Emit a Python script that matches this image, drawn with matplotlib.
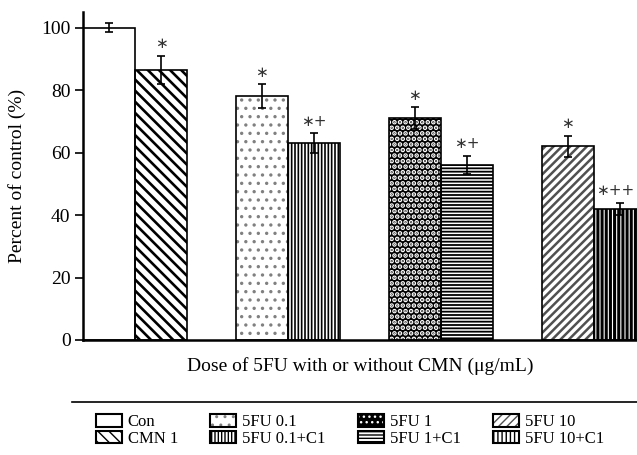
import numpy as np
import matplotlib
matplotlib.use("Agg")
import matplotlib.pyplot as plt
from matplotlib.patches import Patch
from matplotlib.lines import Line2D

plt.rcParams['font.family'] = ['Liberation Serif', 'DejaVu Serif']

# data
groups = ["Con", "CMN 1", "5FU 0.1", "5FU 0.1+C1", "5FU 1", "5FU 1+C1", "5FU 10", "5FU 10+C1"]
values = [100, 86.5, 78, 63, 71, 56, 62, 42]
errors = [1.5, 4.5, 3.8, 3.2, 3.5, 3.0, 3.4, 2.0]
marks = ["", "\u2217", "\u2217", "\u2217+", "\u2217", "\u2217+", "\u2217", "\u2217++"]

# fill styles: face, hatch, hatch colour, hatch linewidth
styles = [
    ("white", None, "black", 1.0),
    ("white", "\\\\\\", "black", 1.9),
    ("white", "..", "#808080", 1.2),
    ("white", "|||||", "black", 1.2),
    ("black", "...", "white", 2.4),
    ("white", "-----", "black", 1.3),
    ("white", "////", "#505050", 1.8),
    ("white", "||||", "black", 2.2),
]

fig = plt.figure(figsize=(6.37, 4.55), dpi=100)
ax = fig.add_axes([83 / 637, 115 / 455, 1 - 83 / 637, 328 / 455])

pitch = 2.94
xs = []
for i in range(len(values)):
    xs.append((i // 2) * pitch + (i % 2) + 0.5)
xs = np.array(xs)

handles = []
for x, v, e, st in zip(xs, values, errors, styles):
    face, hatch, hcol, hlw = st
    with plt.rc_context({'hatch.linewidth': hlw}):
        b = ax.bar(x, v, width=1.0, color=face, edgecolor=hcol, linewidth=0,
                   hatch=hatch, zorder=1)
    for p in b:
        if hasattr(p, "set_hatch_linewidth"):
            p.set_hatch_linewidth(hlw)
    ax.bar(x, v, width=1.0, fill=False, edgecolor="black", linewidth=1.2, zorder=2)
    with plt.rc_context({'hatch.linewidth': hlw}):
        h1 = Patch(facecolor=face, edgecolor=hcol, linewidth=0, hatch=hatch)
    if hasattr(h1, "set_hatch_linewidth"):
        h1.set_hatch_linewidth(hlw)
    h2 = Patch(fill=False, edgecolor="black", linewidth=1.5)
    handles.append((h1, h2))

ax.errorbar(xs, values, yerr=errors, fmt="none", ecolor="black", elinewidth=1.2,
            capsize=3, capthick=1.2, zorder=3)

for i, (x, v, e, m) in enumerate(zip(xs, values, errors, marks)):
    if m:
        dx = -3 if i == len(marks) - 1 else 0
        ax.annotate(m, (x, v + e), xytext=(dx, 8.5), textcoords="offset points",
                    ha="center", va="center", fontsize=11, family="DejaVu Sans",
                    color="#333333")

ax.set_xlim(0, (637 - 83) / 52)
ax.set_ylim(0, 105)
ax.set_yticks([0, 20, 40, 60, 80, 100])
ax.set_xticks([])
ax.tick_params(axis="y", labelsize=14, length=6, width=1.2, pad=3)
for s in ["top", "right"]:
    ax.spines[s].set_visible(False)
ax.spines["left"].set_linewidth(1.8)
ax.spines["bottom"].set_linewidth(1.8)
ax.set_ylabel("Percent of control (%)", fontsize=14, labelpad=11)
ax.set_xlabel("Dose of 5FU with or without CMN (\u03bcg/mL)", fontsize=14, labelpad=12)

fig.add_artist(Line2D([72 / 637, 1.0], [1 - 402 / 455, 1 - 402 / 455],
                      color="black", linewidth=1.2, transform=fig.transFigure))

fig.legend(handles, groups, ncol=4, loc="upper left", frameon=False,
           bbox_to_anchor=(96 / 637, 1 - 414 / 455), borderpad=0, borderaxespad=0,
           fontsize=12, handlelength=1.55, handleheight=0.8, handletextpad=0.35,
           columnspacing=1.95, labelspacing=0.02)

fig.savefig("out.png", dpi=100)
